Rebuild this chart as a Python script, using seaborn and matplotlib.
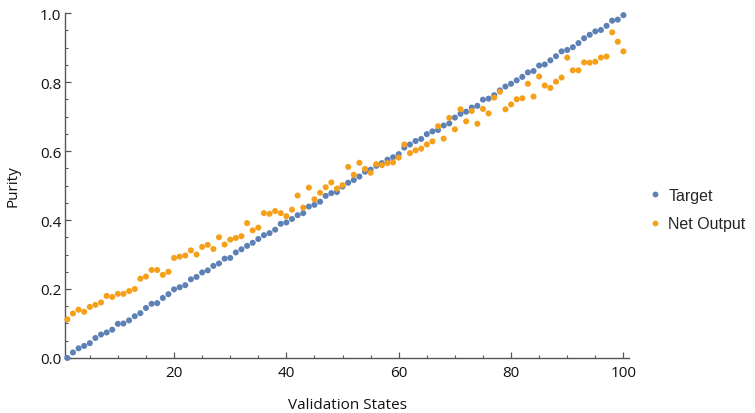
import numpy as np
import pandas as pd
import matplotlib
matplotlib.use("Agg")
import matplotlib.pyplot as plt
from matplotlib.ticker import MultipleLocator
from matplotlib.lines import Line2D
import seaborn as sns

states = list(range(1, 101))

target = [
    0.000, 0.016, 0.028, 0.035, 0.043, 0.058, 0.068, 0.074, 0.082, 0.099,
    0.100, 0.109, 0.121, 0.130, 0.145, 0.157, 0.159, 0.174, 0.185, 0.199,
    0.205, 0.211, 0.228, 0.235, 0.248, 0.254, 0.267, 0.274, 0.288, 0.290,
    0.306, 0.315, 0.325, 0.334, 0.345, 0.356, 0.362, 0.372, 0.389, 0.393,
    0.403, 0.414, 0.420, 0.439, 0.444, 0.453, 0.470, 0.478, 0.481, 0.497,
    0.508, 0.516, 0.526, 0.540, 0.546, 0.557, 0.565, 0.575, 0.582, 0.591,
    0.610, 0.619, 0.629, 0.635, 0.649, 0.657, 0.661, 0.674, 0.680, 0.697,
    0.708, 0.714, 0.726, 0.731, 0.749, 0.752, 0.762, 0.776, 0.787, 0.795,
    0.805, 0.815, 0.828, 0.832, 0.848, 0.851, 0.863, 0.875, 0.889, 0.893,
    0.901, 0.913, 0.927, 0.937, 0.947, 0.951, 0.963, 0.978, 0.981, 0.994,
]

net_output = [
    0.112, 0.129, 0.140, 0.134, 0.148, 0.154, 0.161, 0.180, 0.177, 0.186,
    0.186, 0.194, 0.200, 0.230, 0.236, 0.255, 0.255, 0.241, 0.250, 0.290,
    0.294, 0.297, 0.312, 0.300, 0.322, 0.328, 0.316, 0.350, 0.329, 0.343,
    0.348, 0.353, 0.391, 0.370, 0.378, 0.420, 0.418, 0.426, 0.420, 0.411,
    0.430, 0.471, 0.436, 0.494, 0.460, 0.479, 0.495, 0.509, 0.491, 0.501,
    0.554, 0.531, 0.566, 0.548, 0.537, 0.562, 0.559, 0.565, 0.567, 0.581,
    0.619, 0.594, 0.602, 0.607, 0.619, 0.628, 0.672, 0.636, 0.696, 0.663,
    0.721, 0.686, 0.716, 0.679, 0.722, 0.709, 0.755, 0.772, 0.721, 0.735,
    0.750, 0.753, 0.795, 0.758, 0.816, 0.790, 0.783, 0.801, 0.813, 0.871,
    0.834, 0.834, 0.857, 0.856, 0.859, 0.871, 0.874, 0.944, 0.917, 0.889,
]

series_names = ["Target", "Net Output"]
series_colors = ["#5E81B5", "#F6A01A"]

df = pd.DataFrame({
    "Validation States": states * 2,
    "Purity": target + net_output,
    "series": [series_names[0]] * len(states) + [series_names[1]] * len(states),
})

sns.set_style("ticks")
plt.rcParams["font.family"] = ["Open Sans", "DejaVu Sans"]

fig = plt.figure(figsize=(7.55, 4.14), dpi=100)
ax = fig.add_axes([0.0865, 0.1329, 0.8335 - 0.0865, 0.966 - 0.1329])

sns.scatterplot(
    data=df, x="Validation States", y="Purity", hue="series",
    hue_order=series_names, palette=series_colors,
    s=19, linewidth=0, ax=ax, legend=False, zorder=3, clip_on=False,
)

ax.set_xlim(0.64, 101.05)
ax.set_ylim(0.0, 1.0)
ax.xaxis.set_major_locator(MultipleLocator(20))
ax.xaxis.set_minor_locator(MultipleLocator(5))
ax.yaxis.set_major_locator(MultipleLocator(0.2))
ax.yaxis.set_minor_locator(MultipleLocator(0.05))
ax.yaxis.set_major_formatter(matplotlib.ticker.FormatStrFormatter("%.1f"))

axis_col = "#555555"
text_col = "#111111"
for side in ["top", "right"]:
    ax.spines[side].set_visible(False)
for side in ["left", "bottom"]:
    ax.spines[side].set_color(axis_col)
    ax.spines[side].set_linewidth(1.0)

ax.tick_params(which="major", direction="in", length=4, width=0.9,
               color=axis_col, labelsize=11, labelcolor=text_col, pad=5)
ax.tick_params(which="minor", direction="in", length=2.3, width=0.8,
               color=axis_col)
ax.tick_params(axis="y", which="major", pad=3)

ax.set_xlabel("Validation States", fontsize=11, color=text_col, labelpad=12)
ax.set_ylabel("Purity", fontsize=11, color=text_col, labelpad=14)

handles = [Line2D([], [], marker="o", linestyle="", markersize=4.2,
                  markerfacecolor=c, markeredgewidth=0) for c in series_colors]
ax.legend(handles, series_names, loc="upper left",
          bbox_to_anchor=(650 / 755, 1 - 189 / 414),
          bbox_transform=fig.transFigure, frameon=False,
          prop={"family": "Liberation Sans", "size": 11.5},
          handlelength=0.6, handletextpad=0.55, labelspacing=0.82,
          borderpad=0, borderaxespad=0)

fig.savefig("out.png", dpi=100)
